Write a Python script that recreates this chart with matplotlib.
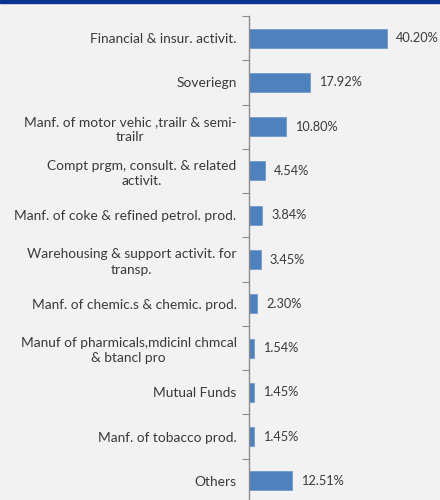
import matplotlib.pyplot as plt
from matplotlib.patches import Rectangle
import numpy as np

categories = ['Financial & insur. activit.',
              'Soveriegn',
              'Manf. of motor vehic ,trailr & semi-\ntrailr',
              'Compt prgm, consult. & related\nactivit.',
              'Manf. of coke & refined petrol. prod.',
              'Warehousing & support activit. for\ntransp.',
              'Manf. of chemic.s & chemic. prod.',
              'Manuf of pharmicals,mdicinl chmcal\n& btancl pro',
              'Mutual Funds',
              'Manf. of tobacco prod.',
              'Others']
shares = [40.20, 17.92, 10.80, 4.54, 3.84, 3.45, 2.30, 1.54, 1.45, 1.45, 12.51]

BG = '#f2f2f2'
BAR = '#4f81bd'
TXT = '#3a3a3a'

plt.rcParams['font.family'] = ['Lato', 'DejaVu Sans']

fig = plt.figure(figsize=(4.4, 5.0), dpi=100, facecolor=BG)
# axes: left at x=249px, top at y=16px, bottom slightly below the picture
ax = fig.add_axes([249 / 440, -3 / 500, 191 / 440, 487 / 500])
ax.set_facecolor(BG)

y = np.arange(len(categories))
ax.barh(y, shares, height=0.43, color=BAR, edgecolor='#6f9bd1', linewidth=0.6)
ax.set_ylim(len(categories) - 0.5, -0.5)
ax.set_xlim(0, 191 / 3.425)

for yi, v in zip(y, shares):
    ax.annotate('{:.2f}%'.format(v), xy=(v, yi), xytext=(6.5, 0),
                textcoords='offset points', va='center', ha='left',
                fontsize=9.2, color=TXT)

ax.set_yticks(y)
ax.set_yticklabels(categories, fontsize=9.9, color=TXT, ma='center',
                   linespacing=1.3)
ax.tick_params(axis='y', which='major', length=0, pad=9)
ax.set_yticks(np.arange(-0.5, len(categories), 1), minor=True)
ax.tick_params(axis='y', which='minor', length=5, color='#8c8c8c', width=0.8)
ax.set_xticks([])

for s in ['top', 'right', 'bottom']:
    ax.spines[s].set_visible(False)
ax.spines['left'].set_color('#8c8c8c')
ax.spines['left'].set_linewidth(1.0)

# dark blue strip at the very top
fig.patches.append(Rectangle((0, 1 - 3 / 500), 1, 3 / 500, transform=fig.transFigure,
                             color='#0a3291', zorder=5))

fig.savefig('out.png', dpi=100, facecolor=BG)
